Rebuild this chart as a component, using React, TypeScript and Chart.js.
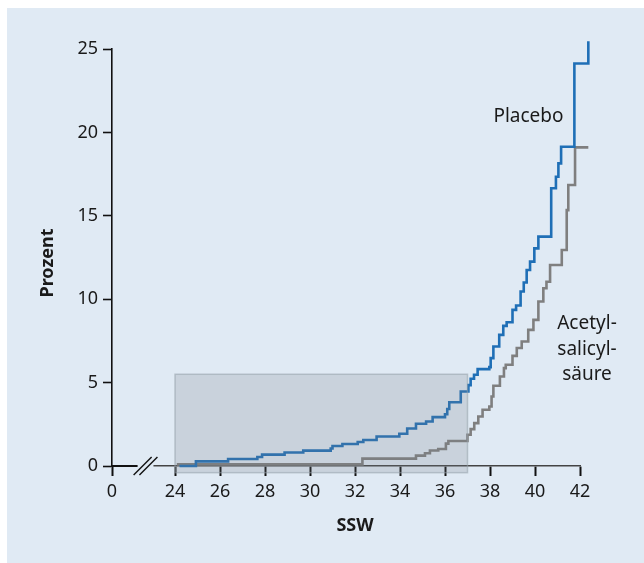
import React, { useEffect, useRef } from "react";
import { Chart, registerables } from "chart.js";

Chart.register(...registerables);

// ---- data ----
const placeboWeeks = [
  24.2, 24.93, 26.36, 27.66, 27.87, 28.87, 29.7, 30.92, 31.0, 31.44, 32.12, 32.37,
  32.96, 33.97, 34.32, 34.71, 35.16, 35.45, 36.0, 36.1, 36.19, 36.7, 37.04, 37.14,
  37.29, 37.45, 37.97, 38.03, 38.15, 38.41, 38.59, 38.74, 39.0, 39.16, 39.36, 39.5,
  39.63, 39.78, 39.97, 40.15, 40.72, 40.93, 41.04, 41.16, 41.75, 42.37,
];
const placeboPercent = [
  0.0, 0.28, 0.42, 0.54, 0.68, 0.81, 0.92, 1.05, 1.2, 1.32, 1.44, 1.56,
  1.77, 1.93, 2.25, 2.53, 2.67, 2.93, 3.1, 3.42, 3.82, 4.47, 4.85, 5.23,
  5.47, 5.81, 5.93, 6.47, 7.16, 7.86, 8.4, 8.62, 9.36, 9.62, 10.46, 11.0,
  11.75, 12.25, 13.05, 13.75, 16.65, 17.34, 18.14, 19.14, 24.13, 25.47,
];
const asaWeeks = [
  24.08, 32.33, 34.71, 35.11, 35.33, 35.7, 36.04, 36.15, 37.0, 37.14, 37.3, 37.48,
  37.67, 37.97, 38.07, 38.15, 38.44, 38.62, 38.7, 39.0, 39.19, 39.41, 39.7, 39.93,
  40.15, 40.37, 40.51, 40.67, 41.19, 41.41, 41.48, 41.78, 42.37,
];
const asaPercent = [
  0.1, 0.44, 0.62, 0.76, 0.93, 1.02, 1.34, 1.5, 1.87, 2.21, 2.57, 2.97,
  3.37, 3.57, 4.17, 4.81, 5.37, 5.87, 6.07, 6.6, 7.07, 7.46, 8.16, 8.76,
  9.86, 10.66, 11.05, 12.05, 12.95, 15.34, 16.85, 19.1, 19.1,
];
const xTickValues = [21.2, 24, 26, 28, 30, 32, 34, 36, 38, 40, 42];
const xTickLabels = ["0", "24", "26", "28", "30", "32", "34", "36", "38", "40", "42"];
const yTickValues = [0, 5, 10, 15, 20, 25];
const seriesNames = ["Placebo", "Acetylsalicylsäure"];
const placeboLabel = ["Placebo"];
const asaLabel = ["Acetyl-", "salicyl-", "säure"];
const shadedWeeks = [24, 37];
const shadedPercent = [-0.4, 5.5];
const axisTitles = ["SSW", "Prozent"];
const axisBreakWeeks = [22.56, 22.82];

const FONT = "'Noto Sans', 'Open Sans', sans-serif";

function toPoints(xs: number[], ys: number[]) {
  return xs.map((x, i) => ({ x, y: ys[i] }));
}

const decorPlugin = {
  id: "decor",
  afterDatasetsDraw(chart: any) {
    const { ctx } = chart;
    const xs = chart.scales.x;
    const ys = chart.scales.y;
    // shaded box
    const l = xs.getPixelForValue(shadedWeeks[0]);
    const r = xs.getPixelForValue(shadedWeeks[1]);
    const t = ys.getPixelForValue(shadedPercent[1]);
    const b = ys.getPixelForValue(shadedPercent[0]);
    ctx.save();
    ctx.fillStyle = "rgba(120,128,138,0.22)";
    ctx.fillRect(l, t, r - l, b - t);
    ctx.strokeStyle = "rgba(150,160,170,0.55)";
    ctx.lineWidth = 1.5;
    ctx.strokeRect(l, t, r - l, b - t);
    ctx.restore();
  },
  afterDraw(chart: any) {
    const { ctx, chartArea } = chart;
    const xs = chart.scales.x;
    const ys = chart.scales.y;
    const y0 = ys.getPixelForValue(0);
    ctx.save();
    // black left part of x axis
    const xBreak1 = xs.getPixelForValue(axisBreakWeeks[0]);
    const xBreak2 = xs.getPixelForValue(axisBreakWeeks[1]);
    ctx.strokeStyle = "#111";
    ctx.lineWidth = 2;
    ctx.beginPath();
    ctx.moveTo(chartArea.left, y0);
    ctx.lineTo(xBreak1, y0);
    ctx.stroke();
    // gap
    ctx.fillStyle = "#e0eaf4";
    ctx.fillRect(xBreak1 - 5, y0 - 3, xBreak2 - xBreak1 + 10, 6);
    // slashes
    ctx.strokeStyle = "#111";
    ctx.lineWidth = 1.4;
    for (const xb of [xBreak1, xBreak2]) {
      ctx.beginPath();
      ctx.moveTo(xb - 9, y0 + 9);
      ctx.lineTo(xb + 9, y0 - 9);
      ctx.stroke();
    }
    // series labels
    ctx.fillStyle = "#1a1a1a";
    ctx.font = `19px ${FONT}`;
    ctx.textAlign = "center";
    ctx.textBaseline = "middle";
    ctx.fillText(placeboLabel[0], xs.getPixelForValue(39.71), ys.getPixelForValue(20.92));
    const ax = xs.getPixelForValue(42.31);
    const ay = ys.getPixelForValue(8.52);
    asaLabel.forEach((s, i) => ctx.fillText(s, ax, ay + i * 25.5));
    // axis titles
    ctx.font = `bold 18px ${FONT}`;
    ctx.fillText(axisTitles[0], 348, 518);
    ctx.save();
    ctx.translate(41, 255);
    ctx.rotate(-Math.PI / 2);
    ctx.fillText(axisTitles[1], 0, 0);
    ctx.restore();
    ctx.restore();
  },
};

export default function App() {
  const ref = useRef<HTMLCanvasElement | null>(null);
  useEffect(() => {
    if (!ref.current) return;
    const chart = new Chart(ref.current, {
      type: "line",
      data: {
        datasets: [
          {
            label: seriesNames[0],
            data: toPoints(placeboWeeks, placeboPercent),
            borderColor: "#1f6fb6",
            borderWidth: 2.6,
            stepped: "before",
            pointRadius: 0,
            fill: false,
            clip: false as any,
          },
          {
            label: seriesNames[1],
            data: toPoints(asaWeeks, asaPercent),
            borderColor: "#7f7f7f",
            borderWidth: 2.6,
            stepped: "before",
            pointRadius: 0,
            fill: false,
            clip: false as any,
          },
        ],
      },
      options: {
        animation: false,
        responsive: false,
        events: [],
        layout: { padding: { left: 45, right: 64, top: 41, bottom: 37 } },
        plugins: { legend: { display: false }, tooltip: { enabled: false } },
        scales: {
          x: {
            type: "linear",
            min: 21.2,
            max: 42,
            afterBuildTicks(scale: any) {
              scale.ticks = xTickValues.map((v) => ({ value: v }));
            },
            afterFit(scale: any) {
              scale.height = 60;
              scale.paddingLeft = 0;
              scale.paddingRight = 0;
            },
            grid: {
              drawOnChartArea: false,
              drawTicks: true,
              tickLength: 10,
              tickColor: "#111",
              tickWidth: 2,
            },
            border: { display: true, color: "#444", width: 1.6 },
            ticks: {
              autoSkip: false,
              maxRotation: 0,
              padding: 5,
              color: "#1a1a1a",
              font: { family: FONT, size: 18 },
              callback: (v: any) => {
                const i = xTickValues.indexOf(Number(v));
                return i >= 0 ? xTickLabels[i] : "";
              },
            },
          },
          y: {
            type: "linear",
            min: 0,
            max: 25,
            afterBuildTicks(scale: any) {
              scale.ticks = yTickValues.map((v) => ({ value: v }));
            },
            afterFit(scale: any) {
              scale.width = 60;
              scale.paddingTop = 0;
              scale.paddingBottom = 0;
            },
            grid: {
              drawOnChartArea: false,
              drawTicks: true,
              tickLength: 9,
              tickColor: "#111",
              tickWidth: 1.6,
            },
            border: { display: true, color: "#111", width: 1.6 },
            ticks: {
              padding: 5,
              color: "#1a1a1a",
              font: { family: FONT, size: 18 },
            },
          },
        },
      },
      plugins: [decorPlugin],
    });
    return () => chart.destroy();
  }, []);

  return (
    <div
      style={{
        position: "fixed",
        left: 7,
        top: 8,
        width: 637,
        height: 555,
        background: "#e0eaf4",
      }}
    >
      <canvas ref={ref} width={637} height={555} />
    </div>
  );
}
